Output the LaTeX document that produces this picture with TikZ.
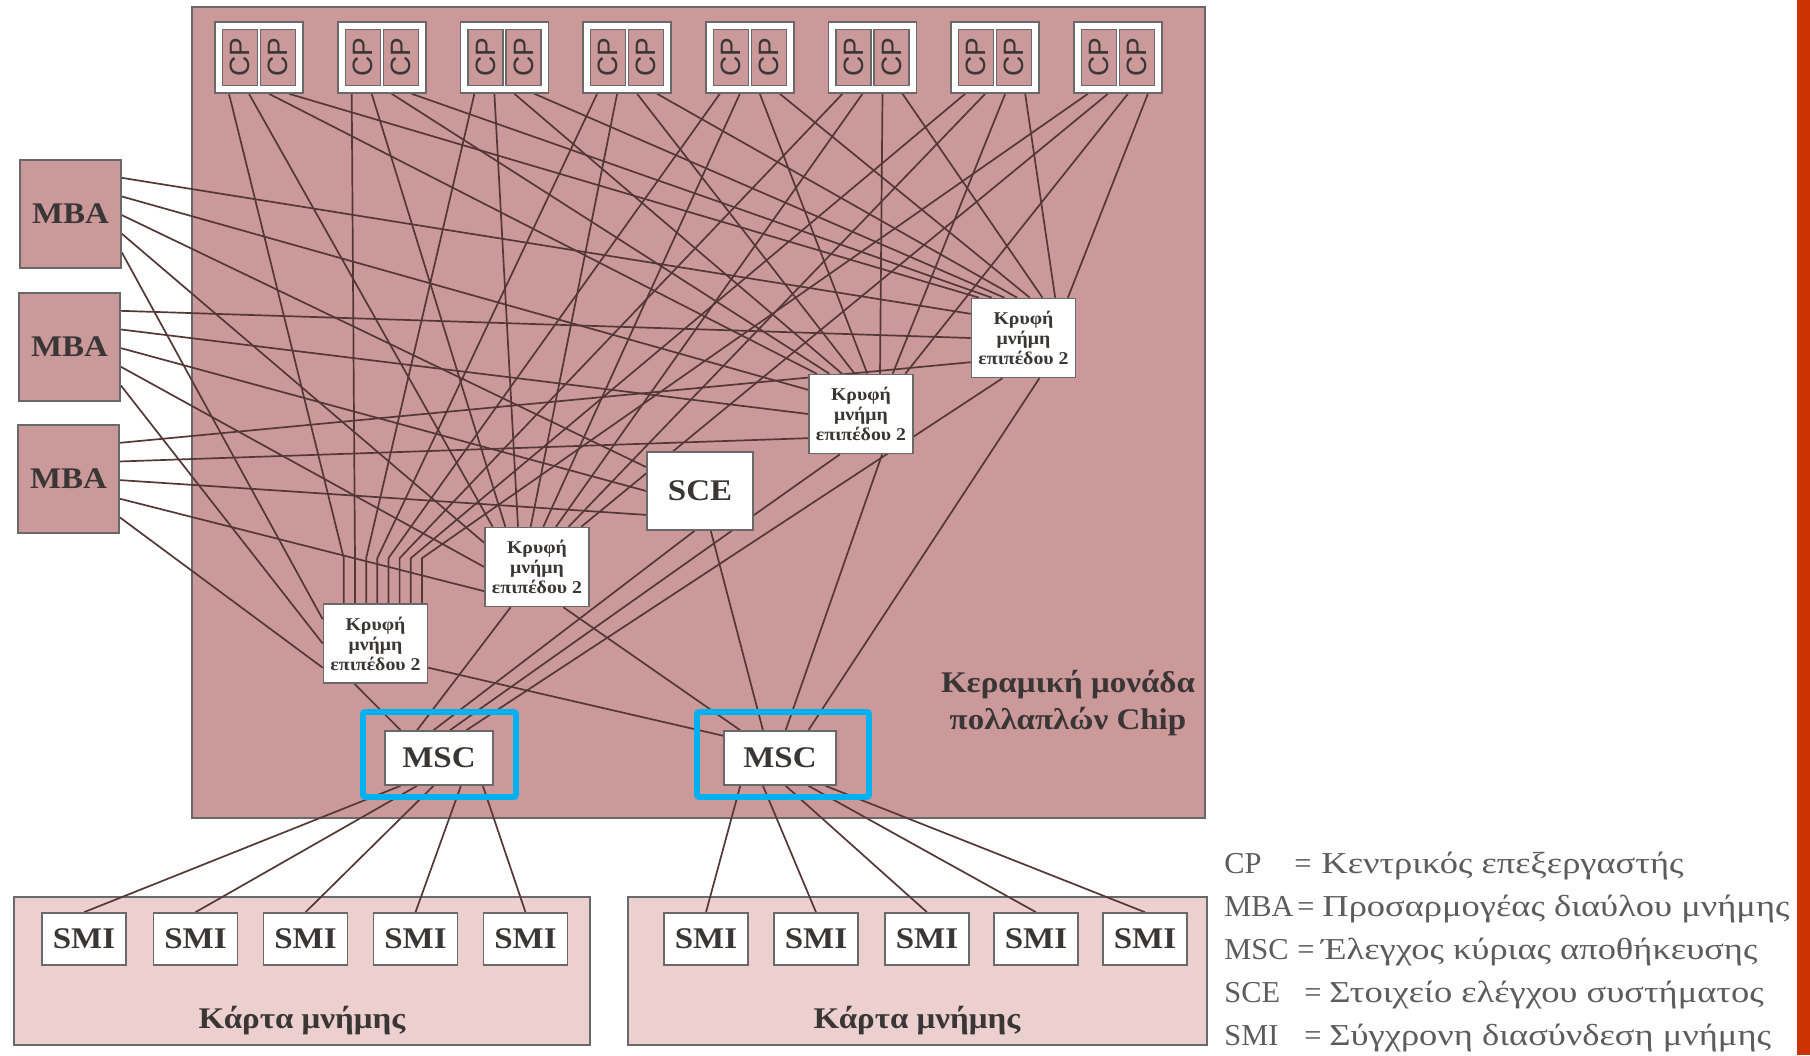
\documentclass[tikz,border=0pt]{standalone}
\usepackage{fontspec}
\setmainfont{Liberation Serif}[FakeStretch=1.1]
\newfontfamily\legendfont{Liberation Serif}[FakeStretch=1.2]
\newfontfamily\legendabbr{Liberation Serif}
\newfontfamily\cpfont{Liberation Sans}
\usetikzlibrary{calc}
\pgfdeclarelayer{board}
\pgfdeclarelayer{wiring}
\pgfsetlayers{board,wiring,main}

\definecolor{ceramic}{RGB}{203,153,154}
\definecolor{cardpink}{RGB}{236,207,207}
\definecolor{wirecol}{RGB}{84,56,56}
\definecolor{edgecol}{RGB}{105,105,105}
\definecolor{ink}{RGB}{58,54,54}
\definecolor{legendink}{RGB}{92,92,92}
\definecolor{frameblue}{RGB}{0,176,240}
\definecolor{sidebar}{RGB}{204,51,0}

\tikzset{
  unitbox/.style={draw=edgecol, line width=0.8pt, fill=white, inner sep=0pt,
    text=ink, font=\fontsize{15}{18}\selectfont\bfseries},
  pinkbox/.style={unitbox, fill=ceramic},
  cpframe/.style={draw=edgecol, line width=0.8pt, fill=white, inner sep=0pt,
    minimum width=44pt, minimum height=35.5pt},
  cpcell/.style={draw=edgecol, line width=0.6pt, fill=ceramic, inner sep=0pt,
    rotate=90, minimum width=28pt, minimum height=17.5pt,
    font=\cpfont\fontsize{14}{14}\selectfont, text=ink},
  cachebox/.style={unitbox, minimum width=52pt, minimum height=39.5pt,
    align=center, font=\fontsize{9}{10}\selectfont\bfseries},
  smibox/.style={unitbox, minimum width=42pt, minimum height=26pt},
  mscbox/.style={unitbox, minimum height=27pt},
  wire/.style={draw=wirecol, line width=0.85pt},
  bluefr/.style={draw=frameblue, line width=2.8pt, rounded corners=1pt},
  caption/.style={text=ink, font=\fontsize{15}{18}\selectfont\bfseries, inner sep=0pt},
  legend/.style={text=legendink, font=\legendfont\fontsize{15.2}{17}\selectfont, inner sep=0pt, anchor=base west},
  legendkey/.style={legend, font=\legendabbr\fontsize{15.2}{17}\selectfont}
}

\begin{document}
\begin{tikzpicture}[x=0.5pt,y=-0.5pt]
\useasboundingbox (0,0) rectangle (1810,1055);

% ---------- processor chips ----------
\foreach \i in {1,...,8} {
  \pgfmathsetmacro\cx{259+122.7*(\i-1)}
  \node[cpframe] (cp\i) at (\cx,57.5) {};
  \node[cpcell] (cpl\i) at (\cx-19,57.5) {CP};
  \node[cpcell] (cpr\i) at (\cx+19,57.5) {CP};
}

% ---------- memory bus adapters ----------
\node[pinkbox, minimum width=50.5pt, minimum height=54pt] (mba1) at (70.5,214) {MBA};
\node[pinkbox, minimum width=50.5pt, minimum height=54pt] (mba2) at (69.5,347) {MBA};
\node[pinkbox, minimum width=50.5pt, minimum height=54pt] (mba3) at (68.5,479) {MBA};

% ---------- level-2 caches ----------
\node[cachebox] (l2a) at (375.5,643.5) {Κρυφή\\μνήμη\\επιπέδου 2};
\node[cachebox] (l2b) at (537,567) {Κρυφή\\μνήμη\\επιπέδου 2};
\node[cachebox] (l2c) at (861,414) {Κρυφή\\μνήμη\\επιπέδου 2};
\node[cachebox] (l2d) at (1023.5,338) {Κρυφή\\μνήμη\\επιπέδου 2};

% ---------- system control element ----------
\node[unitbox, minimum width=53pt, minimum height=39pt] (sce) at (700,491) {SCE};

% ---------- main storage controllers ----------
\node[mscbox, minimum width=54pt] (msc1) at (439,758) {MSC};
\node[mscbox, minimum width=56pt] (msc2) at (780,758) {MSC};
\draw[bluefr] (363,712) rectangle (516,797);
\draw[bluefr] (697,712) rectangle (869,797);

% ---------- memory cards ----------
\foreach \x [count=\k] in {84,195.5,305.5,415.5,525.5,706,816,927,1036,1145}
  \node[smibox] (smi\k) at (\x,939) {SMI};
\node[caption, anchor=base] (cardtxt1) at (302,1028) {Κάρτα μνήμης};
\node[caption, anchor=base] (cardtxt2) at (917,1028) {Κάρτα μνήμης};

\node[caption, anchor=base] (mcm1) at (1068,692) {Κεραμική μονάδα};
\node[caption, anchor=base] (mcm2) at (1068,729) {πολλαπλών Chip};

% ---------- boards ----------
\begin{pgfonlayer}{board}
  \fill[white] (0,0) rectangle (1810,1055);
  \fill[sidebar] (1797,0) rectangle (1810,1055);
  \draw[edgecol, line width=0.8pt, fill=ceramic] (192,7) rectangle (1205,818);
  \draw[edgecol, line width=0.9pt, fill=cardpink] (14,897) rectangle (590,1045);
  \draw[edgecol, line width=0.9pt, fill=cardpink] (628,897) rectangle (1207,1045);
\end{pgfonlayer}

% ---------- interconnect ----------
\begin{pgfonlayer}{wiring}
  % every chip to every cache; the lines into the lowest cache drop in vertically
  \foreach \i in {1,...,8} {
    \pgfmathsetmacro\f{0.08+0.84*(\i-1)/7}
    \pgfmathsetmacro\fa{0.2+0.74*(\i-1)/7}
    \draw[wire] ($(cp\i.south)+(-30,0)$) -- ($(l2a.north west)!\fa!(l2a.north east)+(0,-45)$)
                -- ($(l2a.north west)!\fa!(l2a.north east)$);
    \foreach \t/\dx in {l2b/-10,l2c/10,l2d/30}
      \draw[wire] ($(cp\i.south)+(\dx,0)$) -- ($(\t.north west)!\f!(\t.north east)$);
  }
  % bus adapters to caches and SCE
  \foreach \m/\g in {1/0.2,2/0.5,3/0.8} {
    \foreach \t/\e in {l2d/0.17,l2c/0.34,sce/0.51,l2b/0.68}
      \draw[wire] ($(mba\m.north east)!\e!(mba\m.south east)$) -- ($(\t.north west)!\g!(\t.south west)$);
    \draw[wire] ($(mba\m.north east)!0.85!(mba\m.south east)$) -- ($(l2a.north west)!\g!(l2a.south west)$);
  }
  % caches and SCE to storage controllers
  \draw[wire] ($(l2a.south west)!0.3!(l2a.south east)$) -- ($(msc1.north west)!0.15!(msc1.north east)$);
  \draw[wire] ($(l2a.north east)!0.8!(l2a.south east)$) -- ($(msc2.north west)!0.1!(msc2.south west)$);
  \draw[wire] ($(l2b.south west)!0.25!(l2b.south east)$) -- ($(msc1.north west)!0.3!(msc1.north east)$);
  \draw[wire] ($(l2b.south west)!0.75!(l2b.south east)$) -- ($(msc2.north west)!0.15!(msc2.north east)$);
  \draw[wire] ($(sce.south west)!0.45!(sce.south east)$) -- ($(msc1.north west)!0.45!(msc1.north east)$);
  \draw[wire] ($(sce.south west)!0.6!(sce.south east)$) -- ($(msc2.north west)!0.35!(msc2.north east)$);
  \draw[wire] ($(l2c.south west)!0.3!(l2c.south east)$) -- ($(msc1.north west)!0.6!(msc1.north east)$);
  \draw[wire] ($(l2c.south west)!0.7!(l2c.south east)$) -- ($(msc2.north west)!0.55!(msc2.north east)$);
  \draw[wire] ($(l2d.south west)!0.3!(l2d.south east)$) -- ($(msc1.north west)!0.75!(msc1.north east)$);
  \draw[wire] ($(l2d.south west)!0.65!(l2d.south east)$) -- ($(msc2.north west)!0.75!(msc2.north east)$);
  % storage controllers to memory interfaces
  \foreach \k/\f in {1/0.15,2/0.3,3/0.45,4/0.7,5/0.9}
    \draw[wire] ($(msc1.south west)!\f!(msc1.south east)$) -- (smi\k.north);
  \foreach \k/\f in {6/0.15,7/0.35,8/0.55,9/0.75,10/0.9}
    \draw[wire] ($(msc2.south west)!\f!(msc2.south east)$) -- (smi\k.north);
\end{pgfonlayer}

% ---------- legend ----------
\node[legendkey] (lgk1) at (1224,873) {CP};
\node[legendkey] (lge1) at (1294,873) {=};
\node[legend] (lgv1) at (1321,873) {Κεντρικός επεξεργαστής};
\node[legendkey] (lgk2) at (1224,916) {MBA};
\node[legendkey] (lge2) at (1297,916) {=};
\node[legend] (lgv2) at (1322,916) {Προσαρμογέας διαύλου μνήμης};
\node[legendkey] (lgk3) at (1224,959) {MSC};
\node[legendkey] (lge3) at (1297,959) {=};
\node[legend] (lgv3) at (1321,959) {Έλεγχος κύριας αποθήκευσης};
\node[legendkey] (lgk4) at (1224,1002) {SCE};
\node[legendkey] (lge4) at (1304,1002) {=};
\node[legend] (lgv4) at (1329,1002) {Στοιχείο ελέγχου συστήματος};
\node[legendkey] (lgk5) at (1224,1045) {SMI};
\node[legendkey] (lge5) at (1304,1045) {=};
\node[legend] (lgv5) at (1329,1045) {Σύγχρονη διασύνδεση μνήμης};
\end{tikzpicture}
\end{document}
